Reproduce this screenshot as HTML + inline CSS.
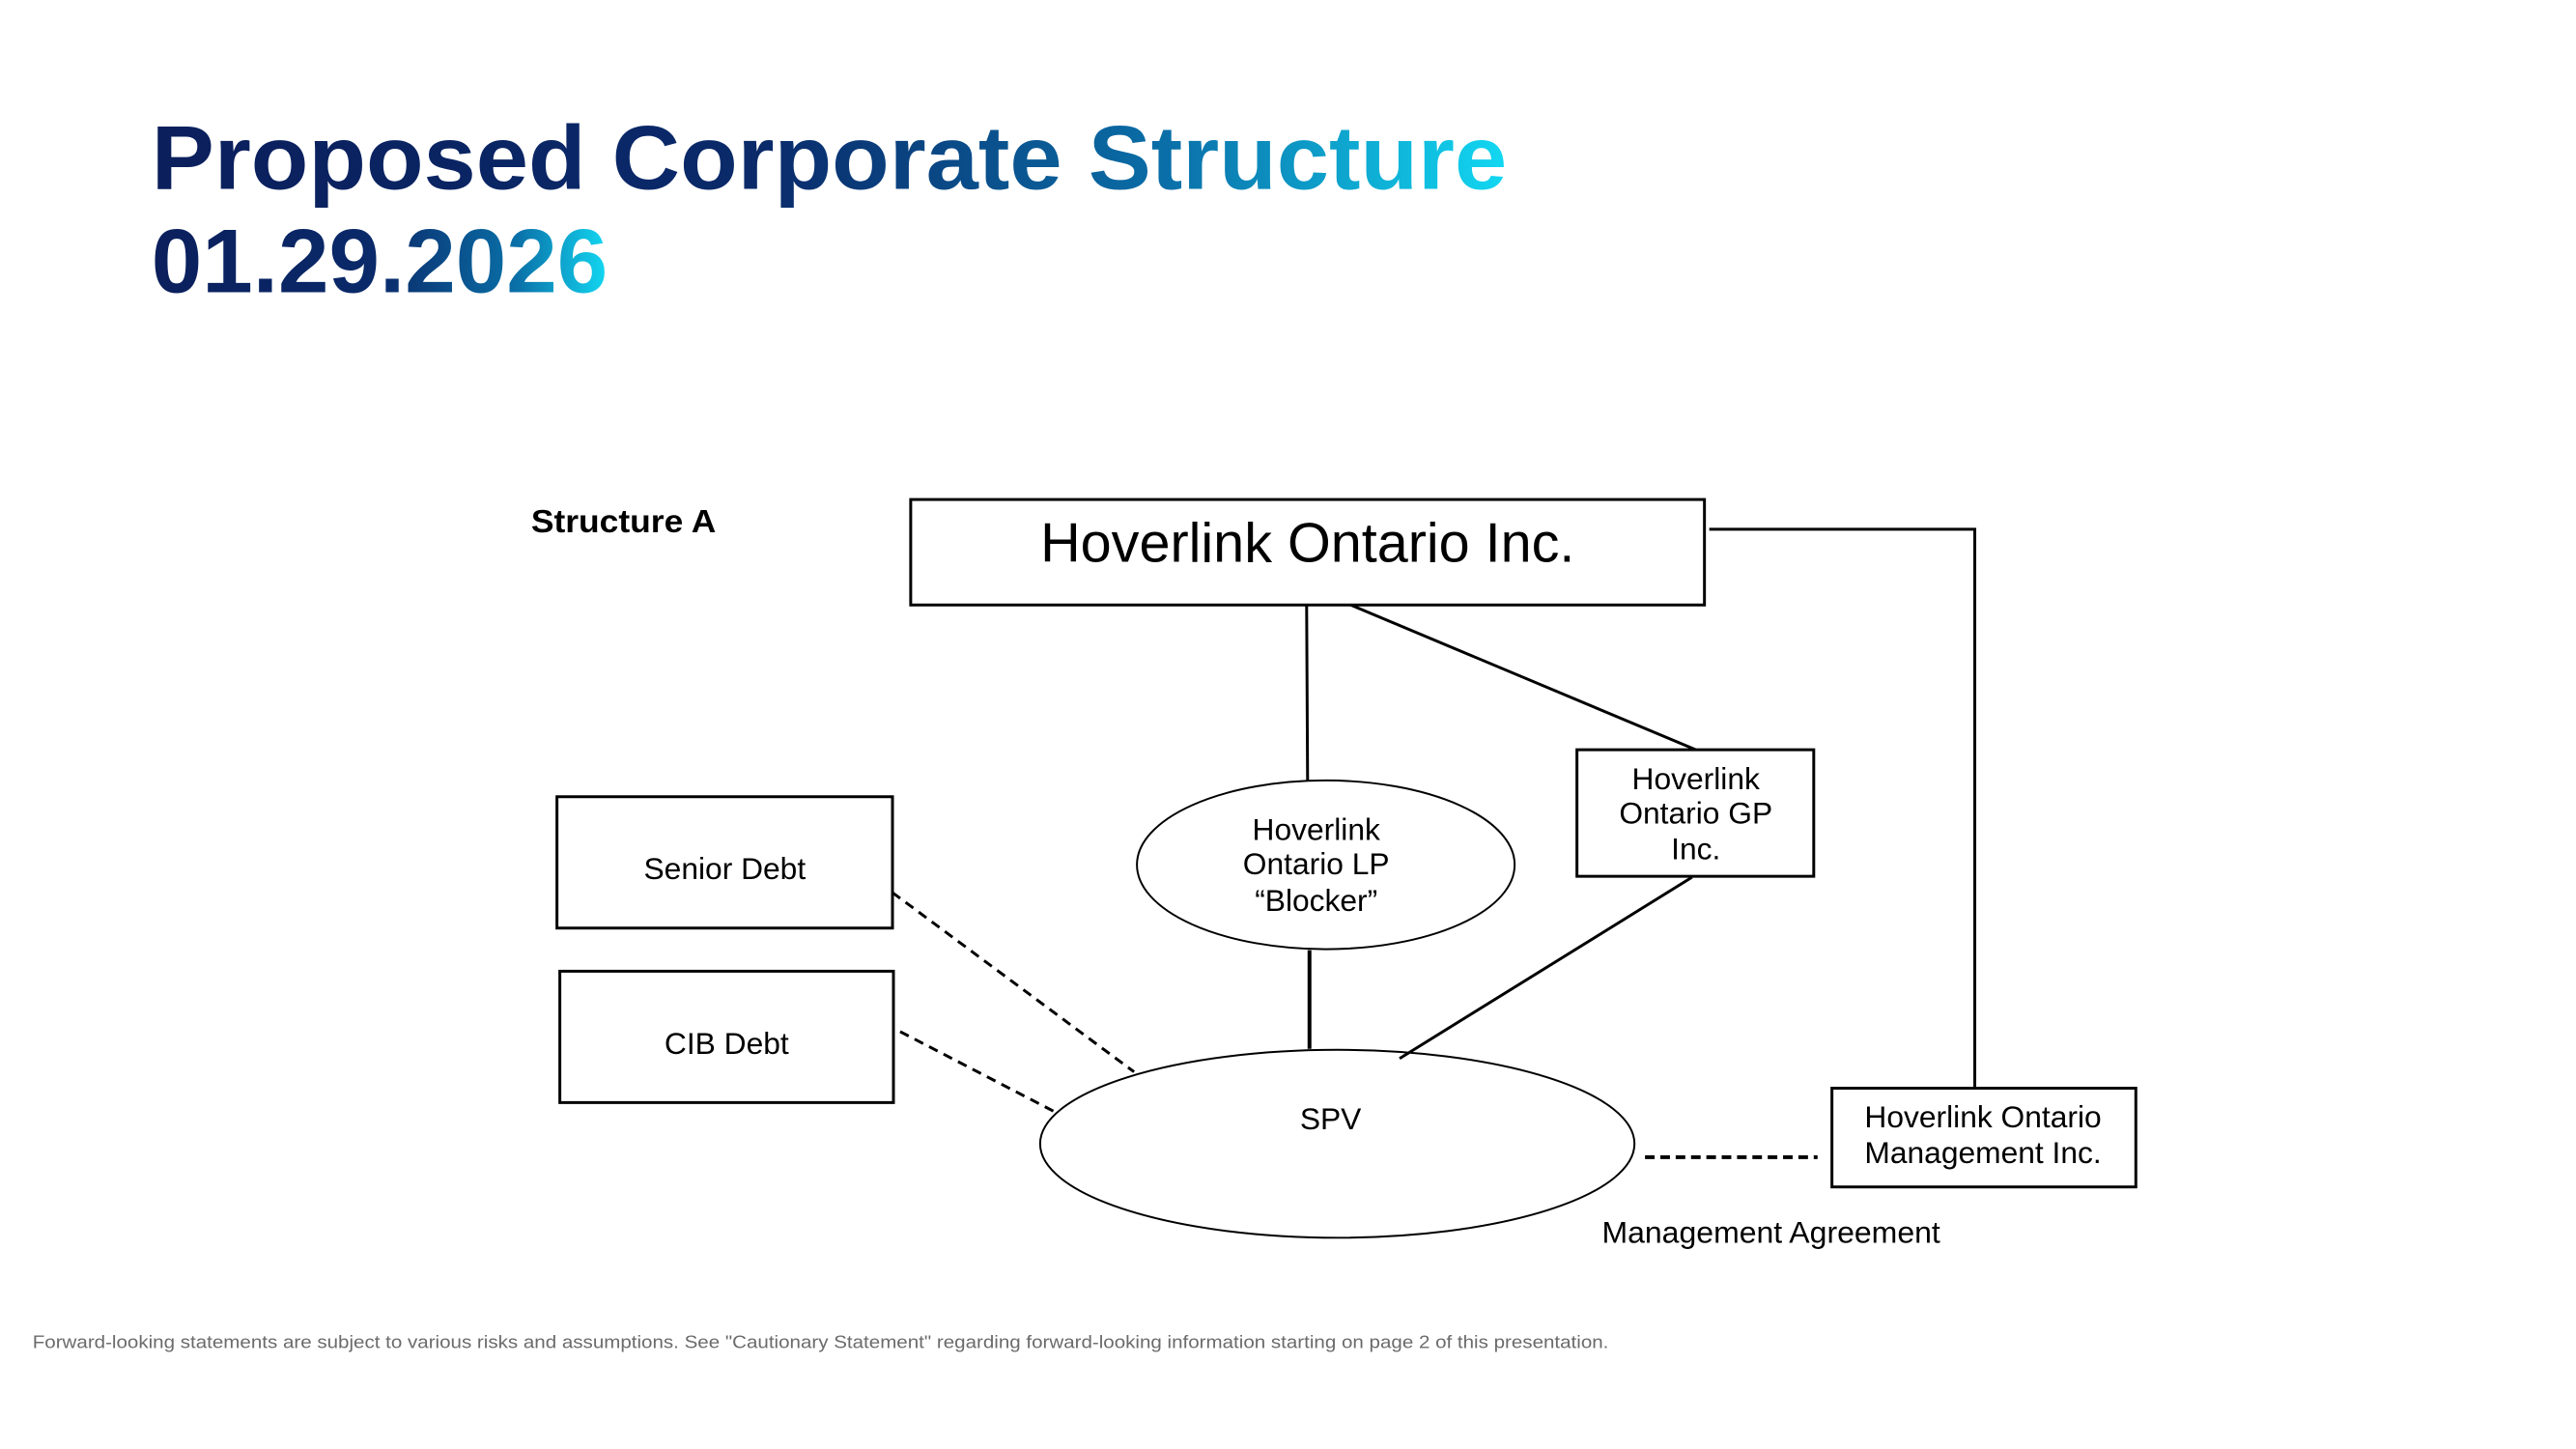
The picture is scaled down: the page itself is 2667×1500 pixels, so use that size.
<!DOCTYPE html>
<html><head><meta charset="utf-8"><style>
html,body{margin:0;padding:0;background:#fff;}
svg{display:block;}
</style></head><body>
<svg width="2667" height="1500" viewBox="0 0 2667 1500" xmlns="http://www.w3.org/2000/svg">
<defs>
<linearGradient id="g1" x1="158" y1="0" x2="1572" y2="0" gradientUnits="userSpaceOnUse">
<stop offset="0" stop-color="#0b1f5c"/><stop offset="0.45" stop-color="#0a2a6a"/><stop offset="0.75" stop-color="#0a6fa8"/><stop offset="1" stop-color="#12d8f2"/></linearGradient>
<linearGradient id="g2" x1="158" y1="0" x2="634" y2="0" gradientUnits="userSpaceOnUse">
<stop offset="0" stop-color="#0b1f5c"/><stop offset="0.5" stop-color="#0a2a6a"/><stop offset="0.8" stop-color="#0a70a8"/><stop offset="1" stop-color="#12d8f2"/></linearGradient>
</defs>
<g font-family="Liberation Sans, sans-serif" transform="scale(0.9925)">
<text x="158" y="197" font-size="94" font-weight="bold" fill="url(#g1)" textLength="1414" lengthAdjust="spacingAndGlyphs">Proposed Corporate Structure</text>
<text x="158" y="305" font-size="94" font-weight="bold" fill="url(#g2)" textLength="476" lengthAdjust="spacingAndGlyphs">01.29.2026</text>

<text x="554" y="555" font-size="34" font-weight="bold" fill="#000" textLength="193" lengthAdjust="spacingAndGlyphs">Structure A</text>

<g stroke="#000" stroke-width="3" fill="none">
<rect x="950" y="521" width="828" height="110"/>
<polyline points="1783,552 2060,552 2060,1135"/>
<line x1="1363" y1="631" x2="1364" y2="814"/>
<line x1="1409" y1="631" x2="1769" y2="782"/>
<rect x="1645" y="782" width="247" height="132"/>
<ellipse cx="1383" cy="902" rx="197" ry="88" stroke-width="2"/>
<line x1="1366" y1="991" x2="1366" y2="1094" stroke-width="4"/>
<line x1="1765" y1="915" x2="1460" y2="1104"/>
<ellipse cx="1395" cy="1193" rx="310" ry="98" stroke-width="2"/>
<rect x="581" y="831" width="350" height="137"/>
<rect x="584" y="1013" width="348" height="137"/>
<line x1="931" y1="931" x2="1183" y2="1118" stroke-dasharray="10,7"/>
<line x1="939" y1="1076" x2="1099" y2="1159" stroke-dasharray="10,7"/>
<line x1="1716" y1="1207" x2="1896" y2="1207" stroke-width="4" stroke-dasharray="10,6"/>
<rect x="1911" y="1135" width="317" height="103"/>
</g>

<text x="1364" y="586" font-size="58" text-anchor="middle" fill="#000">Hoverlink Ontario Inc.</text>
<g font-size="32" text-anchor="middle" fill="#000">
<text x="1769" y="823">Hoverlink</text>
<text x="1769" y="859">Ontario GP</text>
<text x="1769" y="896">Inc.</text>
<text x="1373" y="876">Hoverlink</text>
<text x="1373" y="912">Ontario LP</text>
<text x="1373" y="950">“Blocker”</text>
<text x="1388" y="1178">SPV</text>
<text x="756" y="917">Senior Debt</text>
<text x="758" y="1099">CIB Debt</text>
</g>
<g font-size="32" fill="#000">
<text x="1945" y="1176">Hoverlink Ontario</text>
<text x="1945" y="1213">Management Inc.</text>
<text x="1671" y="1296" textLength="353" lengthAdjust="spacingAndGlyphs">Management Agreement</text>
</g>
<text x="34" y="1406" font-size="19" fill="#6b6b6b" textLength="1644" lengthAdjust="spacingAndGlyphs">Forward-looking statements are subject to various risks and assumptions. See "Cautionary Statement" regarding forward-looking information starting on page 2 of this presentation.</text>
</g>
</svg>
</body></html>
